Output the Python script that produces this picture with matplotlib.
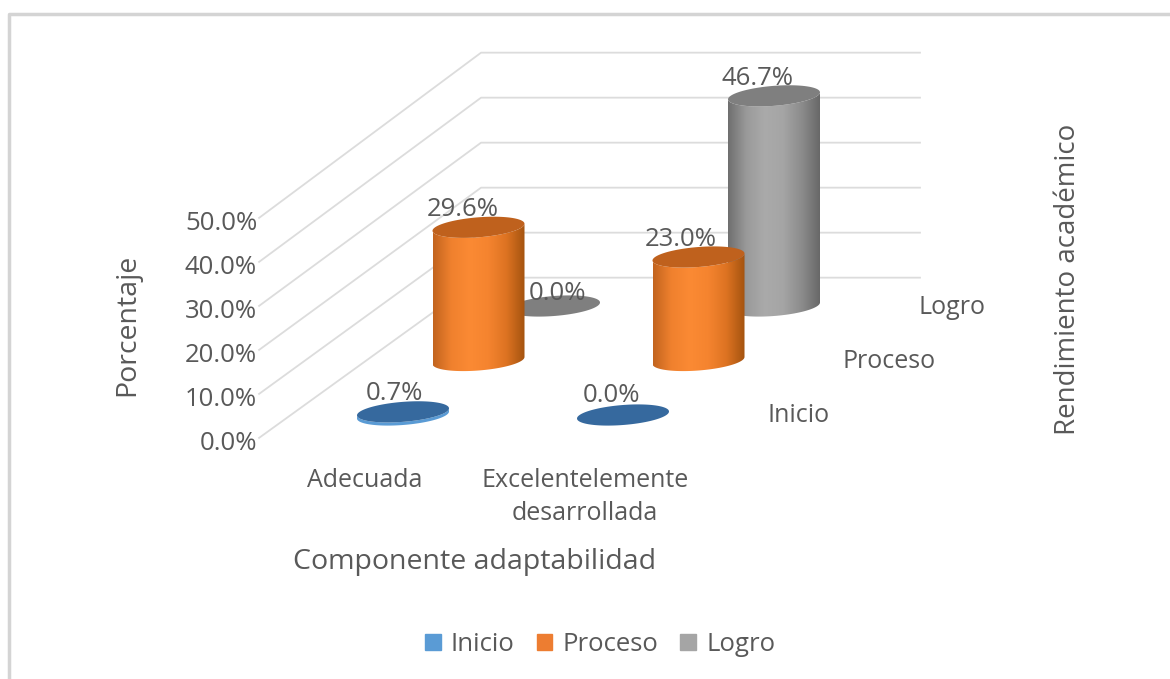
import matplotlib
matplotlib.use('Agg')
import matplotlib.pyplot as plt
import numpy as np
from matplotlib.colors import LinearSegmentedColormap
from matplotlib.patches import Patch, Polygon

# Data
categories = ['Adecuada', 'Excelentelemente\ndesarrollada']
series_names = ['Inicio', 'Proceso', 'Logro']
inicio = [0.7, 0.0]
proceso = [29.6, 23.0]
logro = [0.0, 46.7]
y_ticks = [0, 10, 20, 30, 40, 50]

TEXT = '#595959'
GRID = '#dcdcdc'
plt.rcParams['font.family'] = 'Open Sans'

# fake 3D: category/depth/value -> pixel position
X0, Y0 = 403, 415
CAT_DX = 220
DEPTH_DX, DEPTH_DY = 75.5, 54.5
VAL_DY = 4.5
FRONT_VAL_DY = 4.4  # front edge of the side wall is a bit shorter


def project(cat, depth, value=0.0):
    return X0 + CAT_DX * cat + DEPTH_DX * depth, Y0 - DEPTH_DY * depth - VAL_DY * value


def cylinder(ax, cat, depth, value, top_color, shades, z):
    # body and top are sheared ellipses, right side sits a bit higher
    a, b, s = 46, 10, 3.5
    cx, base = project(cat, depth)
    _, top = project(cat, depth, value)
    t = np.linspace(np.pi, 0, 60)
    low_x = cx + a * np.cos(t)
    low_y = base + b * np.sin(t) - s * np.cos(t)
    up_y = top + b * np.sin(t) - s * np.cos(t)
    body = np.column_stack([np.r_[low_x, low_x[::-1]], np.r_[low_y, up_y[::-1]]])
    clip = Polygon(body, closed=True, fc='none', ec='none', zorder=z)
    ax.add_patch(clip)
    cmap = LinearSegmentedColormap.from_list('shade', shades)
    im = ax.imshow(np.linspace(0, 1, 256).reshape(1, -1), cmap=cmap, aspect='auto',
                   extent=(cx - a, cx + a, base + 20, top - 20), zorder=z)
    im.set_clip_path(clip)
    t = np.linspace(0, 2 * np.pi, 120)
    ax.fill(cx + a * np.cos(t), top + b * np.sin(t) - s * np.cos(t),
            color=top_color, lw=0, zorder=z + 0.5)


fig = plt.figure(figsize=(11.7, 6.79), dpi=100)
ax = fig.add_axes([0, 0, 1, 1])

# walls
front, back = -0.42, 2.52
left = -0.51
right = (920 - X0 - DEPTH_DX * back) / CAT_DX
for v in y_ticks:
    x1, y1 = project(left, front)
    y1 -= FRONT_VAL_DY * v
    x2, y2 = project(left, back, v)
    x3, y3 = project(right, back, v)
    ax.plot([x1, x2, x3], [y1, y2, y3], color=GRID, lw=1.3, zorder=1)
    ax.text(x1 - 2, y1 + 6, f'{v:.1f}%', ha='right', va='center', fontsize=18.5, color=TEXT)

styles = {
    'Logro': ('#7f7f7f', ['#6f6f6f', '#9a9a9a', '#aaaaaa', '#a5a5a5', '#8c8c8c', '#686868']),
    'Proceso': ('#bf611d', ['#c2641f', '#f0812e', '#fb8a34', '#f5842f', '#dd7322', '#a4530f']),
    'Inicio': ('#36699e', ['#5a9bd5', '#5a9bd5', '#5a9bd5', '#5a9bd5', '#5a9bd5', '#5a9bd5']),
}
values = {'Inicio': inicio, 'Proceso': proceso, 'Logro': logro}
depths = {'Inicio': 0, 'Proceso': 1, 'Logro': 2}
label_offsets = {
    'Inicio': [(-9, -18), (-12, -19)],
    'Proceso': [(-16, -17.5), (-18, -18)],
    'Logro': [(3, -12), (-16, -17)],
}

z = 3
for name in ['Logro', 'Proceso', 'Inicio']:
    for c, v in enumerate(values[name]):
        cylinder(ax, c, depths[name], v, styles[name][0], styles[name][1], z)
        z += 1
for name in series_names:
    for c, v in enumerate(values[name]):
        x, y = project(c, depths[name], v)
        dx, dy = label_offsets[name][c]
        ax.text(x + dx, y + dy, f'{v:.1f}%', ha='center', va='center',
                fontsize=18.5, color=TEXT, zorder=50)

# category and depth labels
for c, name in enumerate(categories):
    x, y = project(c - 0.03, front)
    for i, part in enumerate(name.split('\n')):
        ax.text(x, y + 43 + i * 33, part, ha='center', va='center', fontsize=18, color=TEXT)
for name in series_names:
    x, y = project(1.655, depths[name])
    ax.text(x, y + 1, name, ha='left', va='center', fontsize=18, color=TEXT)

# axis titles
ax.text(475, 562, 'Componente adaptabilidad', ha='center', va='center', fontsize=20.5, color=TEXT)
ax.text(127, 325, 'Porcentaje', ha='center', va='center', rotation=90, fontsize=20.5, color=TEXT)
ax.text(1068, 279, 'Rendimiento académico', ha='center', va='center', rotation=90, fontsize=20, color=TEXT)

handles = [Patch(color=c) for c in ['#5a9bd5', '#ed7d31', '#a5a5a5']]
fig.legend(handles, series_names, loc='center', bbox_to_anchor=(0.513, 0.051),
           ncol=3, frameon=False, fontsize=18.5, labelcolor=TEXT,
           handlelength=0.62, handleheight=0.62, handletextpad=0.4, columnspacing=0.85)

# chart frame
ax.plot([9, 9, 1170], [679, 14, 14], color='#d4d4d4', lw=2.5, zorder=2)

ax.set_xlim(0, 1170)
ax.set_ylim(679, 0)
ax.axis('off')
fig.savefig('out.png', dpi=100)
